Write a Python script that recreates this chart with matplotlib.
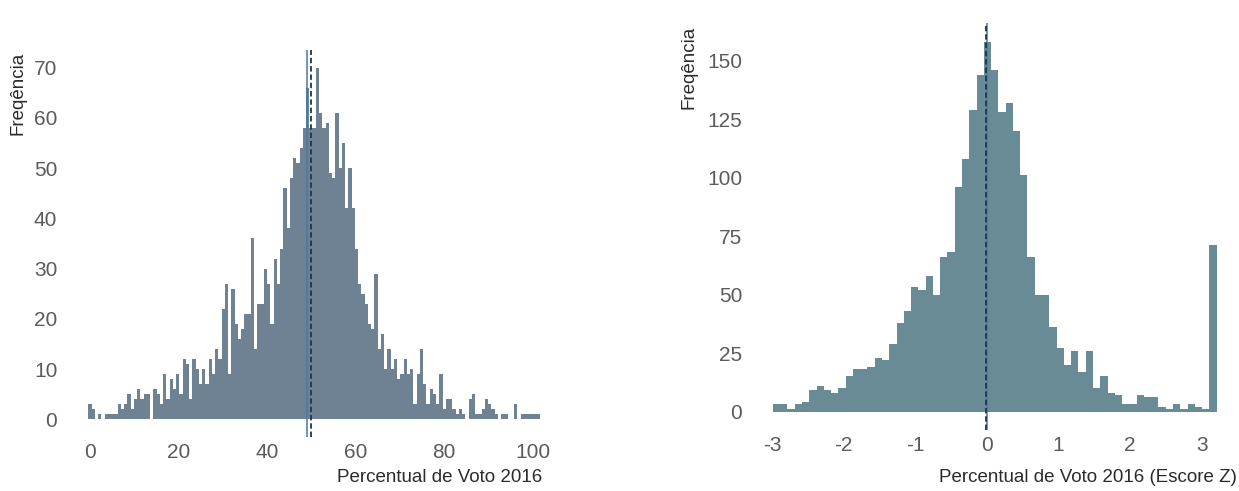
import numpy as np
import matplotlib.pyplot as plt

plt.rcParams['font.family'] = ['Liberation Sans', 'DejaVu Sans']
plt.rcParams['axes.unicode_minus'] = False

# Left histogram: vote share (%) - 139 bins, counts
pct_counts = [
    3, 2, 0, 1, 0, 1, 1, 1, 1, 3,
    2, 3, 5, 2, 4, 6, 4, 5, 5, 0,
    6, 5, 3, 9, 4, 8, 6, 9, 5, 12,
    11, 4, 12, 10, 7, 10, 7, 12, 9, 14,
    12, 22, 27, 9, 26, 19, 16, 18, 21, 21,
    36, 14, 23, 23, 30, 27, 19, 32, 27, 34,
    46, 38, 48, 52, 51, 54, 58, 66, 58, 58,
    70, 61, 58, 59, 49, 48, 61, 50, 55, 42,
    50, 42, 34, 27, 25, 23, 19, 18, 29, 14,
    17, 10, 14, 10, 12, 8, 9, 12, 9, 10,
    3, 9, 14, 7, 3, 6, 5, 3, 9, 2,
    4, 4, 2, 1, 2, 1, 0, 4, 5, 1,
    1, 2, 4, 3, 2, 1, 0, 1, 1, 0,
    0, 3, 0, 1, 1, 1, 1, 1, 1,
]
pct_binwidth = 0.734
pct_median = 48.9
pct_mean = 49.9

# Right histogram: z-score - 61 bins
z_counts = [
    3, 3, 1, 3, 4, 9, 11, 9, 8, 10,
    15, 18, 18, 19, 23, 22, 29, 38, 43, 53,
    52, 58, 50, 66, 68, 96, 108, 129, 144, 158,
    146, 128, 132, 120, 101, 66, 50, 50, 36, 27,
    20, 26, 17, 26, 10, 15, 8, 7, 3, 3,
    7, 6, 6, 2, 1, 3, 1, 3, 2, 1,
    71,
]
z_start = -2.99
z_binwidth = 0.1016
z_median = 0.005
z_mean = -0.01

left_ticks = [0, 20, 40, 60, 80, 100]
left_yticks = [0, 10, 20, 30, 40, 50, 60, 70]
right_ticks = [-3, -2, -1, 0, 1, 2, 3]
right_yticks = [0, 25, 50, 75, 100, 125, 150]

W, H = 1239, 491
fig = plt.figure(figsize=(W / 100, H / 100), dpi=100)

tick_col = '#5b5b5b'
title_col = '#2b2b2b'


def style(ax):
    for s in ax.spines.values():
        s.set_visible(False)
    ax.tick_params(length=0, labelsize=15, labelcolor=tick_col)
    ax.tick_params(axis='y', pad=6)
    ax.tick_params(axis='x', pad=4)


# left panel
ax1 = fig.add_axes([65.6 / W, 1 - 437 / H, (563 - 65.6) / W, (437 - 50) / H])
centers = np.arange(len(pct_counts)) * pct_binwidth
ax1.bar(centers, pct_counts, width=pct_binwidth, color='#6e8294', linewidth=0)
ax1.axvline(pct_median, color='#4a78a0', lw=1.1)
ax1.axvline(pct_mean, color='#1d3550', lw=1.3, dashes=(3, 1.6))
ax1.set_xlim(-5.5, 106.8)
ax1.set_ylim(-3.5, 73.5)
ax1.set_xticks(left_ticks)
ax1.set_yticks(left_yticks)
style(ax1)

# right panel
ax2 = fig.add_axes([750.7 / W, 1 - 430 / H, (W - 750.7) / W, (430 - 23.3) / H])
zc = z_start + (np.arange(len(z_counts)) + 0.5) * z_binwidth
ax2.bar(zc, z_counts, width=z_binwidth, color='#688b95', linewidth=0)
ax2.axvline(z_median, color='#4a78a0', lw=1.1)
ax2.axvline(z_mean, color='#1d3550', lw=1.3, dashes=(3, 1.6))
ax2.set_xlim(-3.30, 3.52)
ax2.set_ylim(-7.9, 165.9)
ax2.set_xticks(right_ticks)
ax2.set_yticks(right_yticks)
style(ax2)

# axis titles placed like the ggplot theme (y title at top, x title at right)
fig.text(17.5 / W, 1 - 52 / H, 'Freqência', rotation=90, ha='center', va='top',
         fontsize=13.5, color=title_col)
fig.text(689 / W, 1 - 26 / H, 'Freqência', rotation=90, ha='center', va='top',
         fontsize=13.5, color=title_col)
fig.text(542 / W, 1 - 477 / H, 'Percentual de Voto 2016', ha='right', va='center',
         fontsize=13.5, color=title_col)
fig.text(1237 / W, 1 - 477 / H, 'Percentual de Voto 2016 (Escore Z)', ha='right',
         va='center', fontsize=13.5, color=title_col)

fig.savefig('out.png', dpi=100)
